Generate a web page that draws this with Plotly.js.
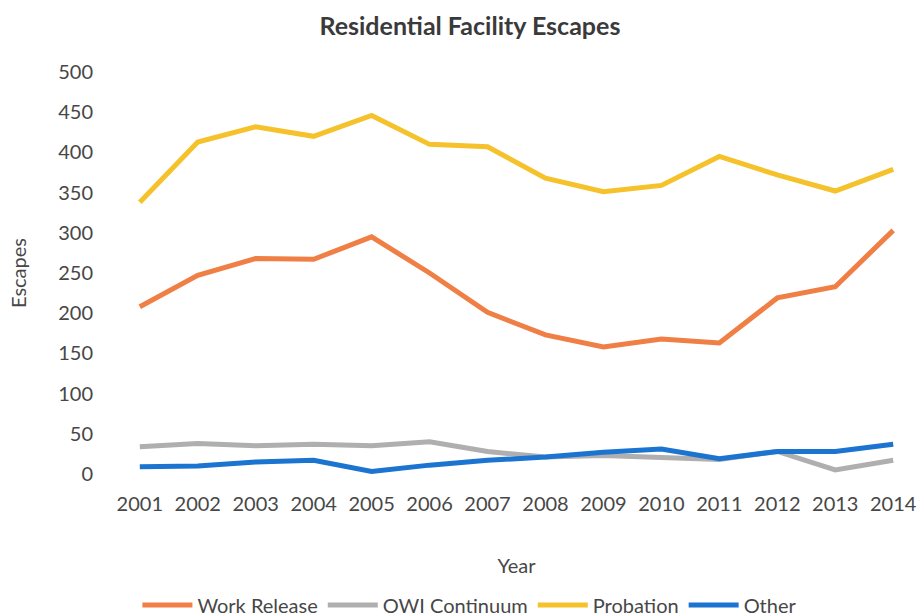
<!DOCTYPE html>
<html>
<head>
<meta charset="utf-8">
<script src="https://cdn.plot.ly/plotly-3.0.1.min.js"></script>
<style>html,body{margin:0;padding:0;background:#fff;}#chart{width:916px;height:616px;}</style>
</head>
<body>
<div id="chart"></div>
<script>
const years = [2001,2002,2003,2004,2005,2006,2007,2008,2009,2010,2011,2012,2013,2014];
const workRelease = [208,247,268,267,295,250,201,173,158,168,163,219,233,303];
const owiContinuum = [34,38,35,37,35,40,28,21,23,20,18,28,5,17];
const probation = [338,413,432,420,446,410,407,368,351,359,395,372,352,379];
const other = [9,10,15,17,3,11,17,21,27,31,19,28,28,37];
const seriesNames = ["Work Release","OWI Continuum","Probation","Other"];
const seriesColors = ["#EF7F45","#AFAFAF","#F5C22C","#1C74D1"];
const seriesData = [workRelease, owiContinuum, probation, other];

const font = "Lato, 'Open Sans', sans-serif";
const txt = '#474747';
const traces = seriesData.map((d,i)=>({
  x: years, y: d, type: 'scatter', mode: 'lines', name: seriesNames[i],
  line: {color: seriesColors[i], width: 5}
}));

const layout = {
  width: 916, height: 616,
  paper_bgcolor: '#fff', plot_bgcolor: '#fff',
  margin: {l: 134, r: 17, t: 68, b: 138},
  title: {text: '<b>Residential Facility Escapes</b>', x: 0.513, xanchor: 'center', y: 0.958, yanchor: 'middle',
          font: {family: font, size: 25, color: '#3a3a3a'}},
  xaxis: {
    range: [2000.9, 2014.1], tickmode: 'array', tickvals: years, ticktext: years.map(String),
    showgrid: false, zeroline: false, showline: false, ticks: '',
    automargin: false, ticklabeloverflow: 'allow',
    ticklabelstandoff: 12,
    tickfont: {family: font, size: 20, color: txt},
    title: {text: 'Year', font: {family: font, size: 20, color: txt}, standoff: 44}
  },
  yaxis: {
    range: [-5, 505], tickmode: 'array', tickvals: [0,50,100,150,200,250,300,350,400,450,500],
    showgrid: false, zeroline: false, showline: false, ticks: '',
    automargin: false,
    ticklabelstandoff: 40,
    tickfont: {family: font, size: 20, color: txt},
    title: {text: 'Escapes', font: {family: font, size: 20, color: txt}, standoff: 26}
  },
  showlegend: true,
  legend: {orientation: 'h', xref: 'container', x: 0.513, xanchor: 'center', yref: 'container', y: 0.018, yanchor: 'middle',
           font: {family: font, size: 20, color: txt}, itemwidth: 50, tracegroupgap: 0}
};
Plotly.newPlot('chart', traces, layout, {displayModeBar: false, staticPlot: true});
</script>
</body>
</html>
